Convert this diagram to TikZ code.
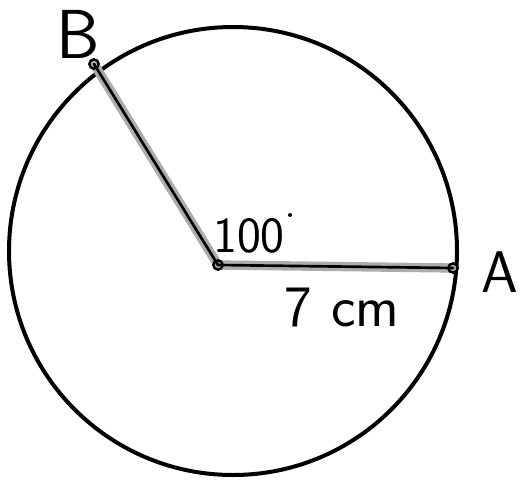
\documentclass[tikz,border=0pt]{standalone}
\usepackage{tikz}

\tikzset{
  rim/.style={line width=3pt},
  halo/.style={line width=7pt, gray!65, line cap=round},
  ink/.style={line width=2pt, line cap=round},
  pin/.style={circle, draw, line width=1.8pt, inner sep=0pt, minimum size=7pt},
  hand/.style={font=\sffamily\fontsize{#1}{#1}\selectfont}
}

\begin{document}
\begin{tikzpicture}[x=0.75pt,y=-0.75pt]
  \useasboundingbox (0,0) rectangle (527,481);
  \draw[rim] (233,251) circle (224);
  % points
  \coordinate (O) at (218,265);
  \coordinate (A) at (453,268);
  \coordinate (B) at (94,64);
  \draw[halo] (B) -- (O) -- (A);
  \draw[ink] (B) -- (O) -- (A);
  \node[pin] (o) at (O) {};
  \node[pin] (a) at (A) {};
  \node[pin] (b) at (B) {};
  % labels
  \node[hand=52] (lb) at (78,34) {B};
  \node[hand=44] (la) at (500,272) {A};
  \node[hand=38] (ang) at (249,236) {100};
  \fill (290,215) circle (2);
  \node[hand=44] (len) at (342,307) {7\,\,cm};
\end{tikzpicture}
\end{document}
